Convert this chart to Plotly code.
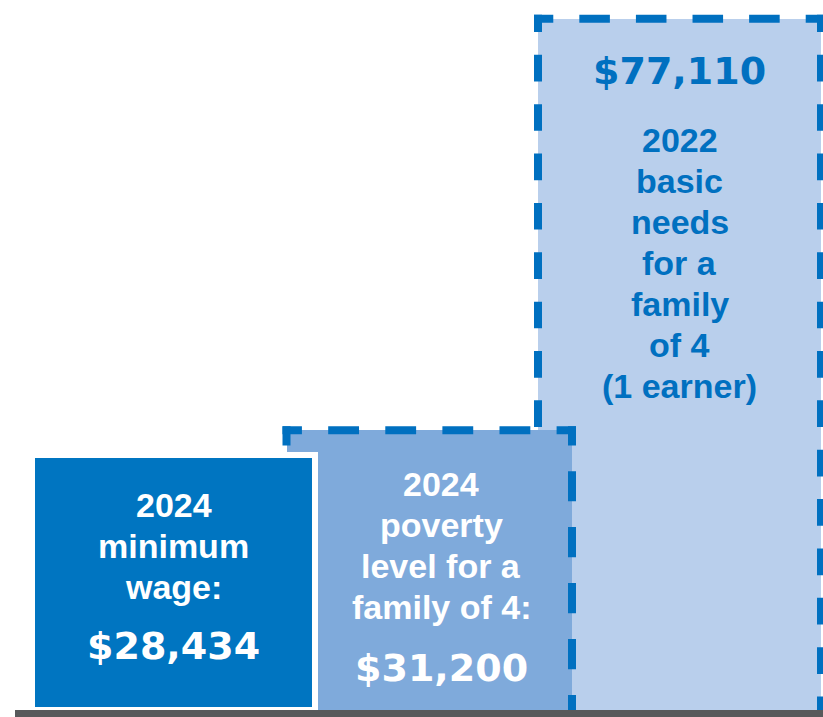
import plotly.graph_objects as go

# ---------------- data ----------------
categories = ["2024 minimum wage",
              "2024 poverty level for a family of 4",
              "2022 basic needs for a family of 4 (1 earner)"]
values = [28434, 31200, 77110]
value_labels = ["$28,434", "$31,200", "$77,110"]
label_lines = [["2024", "minimum", "wage:"],
               ["2024", "poverty", "level for a", "family of 4:"],
               ["2022", "basic", "needs", "for a", "family", "of 4", "(1 earner)"]]

# ---------------- layout / style constants ----------------
W, H = 823, 717
ML, MB = 15, 7
PLOT_H = H - MB
Y_MAX = 79200
K = PLOT_H / Y_MAX            # px per data unit on y
centers = [173.5, 429.25, 679.5]
widths = [283, 285.5, 283]
fills = ["#0075c1", "#7faadb", "#b9cfec"]
text_colors = ["white", "white", "#0070c0"]
text_x = [173.5, 441, 679.5]
first_line_y = [505, 484, 140]     # px from top
value_y = [646, 668, 71]
LINE_STEP = 41
DASH_COLOR = "#0070c0"
BASE_COLOR = "#58595b"
LW = 8
LABEL_FONT = "Liberation Sans, Arial, sans-serif"
VALUE_FONT = "DejaVu Sans, Verdana, sans-serif"


def dash_pattern(L, target, ext_start, ext_end):
    n = max(1, round(L / target))
    P = L / n
    d = 0.54 * P
    g = P - d
    seq = [d / 2 + ext_start] + [g, d] * (n - 1) + [g, d / 2 + ext_end, 2000]
    return ",".join(f"{s:.2f}px" for s in seq)


fig = go.Figure()

# draw from back (index 2) to front (index 0)
z = 0
for i in [2, 1, 0]:
    v = values[i]
    fig.add_trace(go.Bar(
        x=[centers[i]], y=[v], width=[widths[i]], base=0,
        marker=dict(color=fills[i],
                    line=dict(color="white", width=6 if i == 0 else 0)),
        name=categories[i], showlegend=False, hoverinfo="skip",
        zorder=z))
    z += 1
    if i in (1, 2):
        x0 = centers[i] - widths[i] / 2
        x1 = centers[i] + widths[i] / 2
        top_ext = v + (LW / 2) / K
        Lv = v * K
        Lh = widths[i]
        # left side
        fig.add_trace(go.Scatter(
            x=[x0, x0], y=[top_ext, 0], mode="lines",
            line=dict(color=DASH_COLOR, width=LW,
                      dash=dash_pattern(Lv, 51, LW / 2, 0)),
            showlegend=False, hoverinfo="skip", zorder=z))
        # top side
        fig.add_trace(go.Scatter(
            x=[x0 - LW / 2, x1 + LW / 2], y=[v, v], mode="lines",
            line=dict(color=DASH_COLOR, width=LW,
                      dash=dash_pattern(Lh, 57, LW / 2, LW / 2)),
            showlegend=False, hoverinfo="skip", zorder=z))
        # right side
        fig.add_trace(go.Scatter(
            x=[x1, x1], y=[top_ext, 0], mode="lines",
            line=dict(color=DASH_COLOR, width=LW,
                      dash=dash_pattern(Lv, 51, LW / 2, 0)),
            showlegend=False, hoverinfo="skip", zorder=z))
        z += 1

annotations = []
for i in range(3):
    for j, line in enumerate(label_lines[i]):
        py = first_line_y[i] + j * LINE_STEP
        annotations.append(dict(
            x=text_x[i], xref="x", y=1 - py / PLOT_H, yref="paper",
            text=line, showarrow=False, xanchor="center", yanchor="middle",
            font=dict(family=LABEL_FONT, size=34, color=text_colors[i],
                      weight="bold")))
    annotations.append(dict(
        x=text_x[i], xref="x", y=1 - value_y[i] / PLOT_H, yref="paper",
        text=value_labels[i], showarrow=False, xanchor="center",
        yanchor="middle",
        font=dict(family=VALUE_FONT, size=38, color=text_colors[i],
                  weight="bold")))

# baseline under the bars
shapes = [dict(type="rect", xref="paper", yref="paper",
               x0=0, x1=1, y0=-MB / PLOT_H, y1=0.0,
               fillcolor=BASE_COLOR, line=dict(width=0), layer="above")]

fig.update_layout(
    width=W, height=H,
    margin=dict(l=ML, r=0, t=0, b=MB, pad=0),
    paper_bgcolor="white", plot_bgcolor="white",
    barmode="overlay", bargap=0,
    showlegend=False, hovermode=False,
    annotations=annotations, shapes=shapes,
    xaxis=dict(range=[ML, W], showgrid=False, zeroline=False,
               showticklabels=False, ticks="", showline=False,
               fixedrange=True),
    yaxis=dict(range=[0, Y_MAX], showgrid=False, zeroline=False,
               showticklabels=False, ticks="", showline=False,
               fixedrange=True),
)

fig.write_html("out.html", config={"displayModeBar": False},
               post_script="document.body.style.margin='0';"
                           "document.body.style.overflow='hidden';")
